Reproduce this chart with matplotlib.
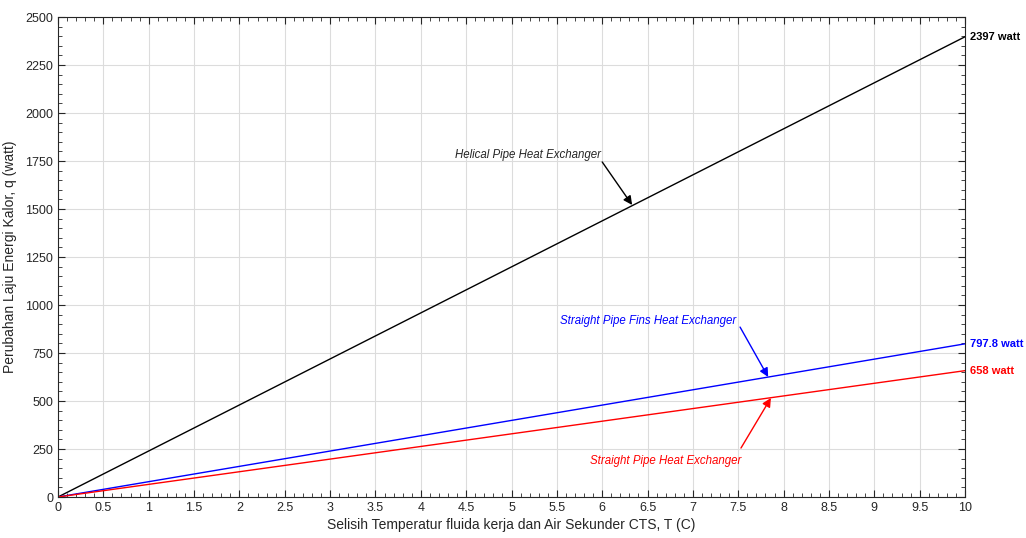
import matplotlib.pyplot as plt
from matplotlib.ticker import MultipleLocator

plt.rcParams['font.family'] = ['Liberation Sans', 'DejaVu Sans']

# end points of each (linear) curve
T = [0, 10]
q_helical = [0, 2397]
q_fins = [0, 797.8]
q_straight = [0, 658]

names = ['Helical Pipe Heat Exchanger',
         'Straight Pipe Fins Heat Exchanger',
         'Straight Pipe Heat Exchanger']
end_labels = ['2397 watt', '797.8 watt', '658 watt']
colors = ['black', '#0000ff', '#ff0000']

fig = plt.figure(figsize=(10.26, 5.38), dpi=100)
ax = fig.add_axes([58 / 1026, 41 / 538, 907 / 1026, 480 / 538])

for q, c in zip([q_helical, q_fins, q_straight], colors):
    ax.plot(T, q, color=c, linewidth=1)

ax.set_xlim(0, 10)
ax.set_ylim(0, 2500)
ax.xaxis.set_major_locator(MultipleLocator(0.5))
ax.xaxis.set_minor_locator(MultipleLocator(0.1))
ax.yaxis.set_major_locator(MultipleLocator(250))
ax.yaxis.set_minor_locator(MultipleLocator(50))
ax.xaxis.set_major_formatter(plt.FuncFormatter(lambda v, p: f'{v:g}'))
ax.tick_params(which='both', direction='in', top=True, right=True,
               labelsize=9, color='#262626', labelcolor='#262626')
ax.tick_params(which='major', length=5)
ax.tick_params(which='minor', length=3)
ax.grid(True, which='major', color='#dcdcdc', linewidth=0.8)
ax.set_axisbelow(True)
for s in ax.spines.values():
    s.set_color('#262626')
    s.set_linewidth(0.8)

ax.set_xlabel('Selisih Temperatur fluida kerja dan Air Sekunder CTS, T (C)',
              fontsize=10, color='#262626', labelpad=3)
ax.set_ylabel('Perubahan Laju Energi Kalor, q (watt)',
              fontsize=10, color='#262626', labelpad=6)

# labels with arrows pointing at the curves
text_pos = [(4.38, 1781), (5.53, 917), (5.87, 187)]
tails = [(6.0, 1745), (7.52, 885), (7.53, 255)]
heads = [(6.33, 1521), (7.83, 625), (7.86, 516)]
text_colors = ['#262626', colors[1], colors[2]]
arrow_colors = ['black', colors[1], colors[2]]
for name, tp, tl, hd, tc, ac in zip(names, text_pos, tails, heads,
                                    text_colors, arrow_colors):
    ax.text(tp[0], tp[1], name, fontsize=8.3, style='italic', color=tc,
            va='center', ha='left')
    ax.annotate('', xy=hd, xytext=tl,
                arrowprops=dict(arrowstyle='-|>', color=ac, lw=1,
                                shrinkA=0, shrinkB=0, mutation_scale=13))

# end value labels
for q, lab, c in zip([q_helical, q_fins, q_straight], end_labels, colors):
    ax.text(10.05, q[-1], lab, color=c, fontsize=8, fontweight='bold',
            va='center', ha='left', clip_on=False)

fig.savefig('out.png', dpi=100)
